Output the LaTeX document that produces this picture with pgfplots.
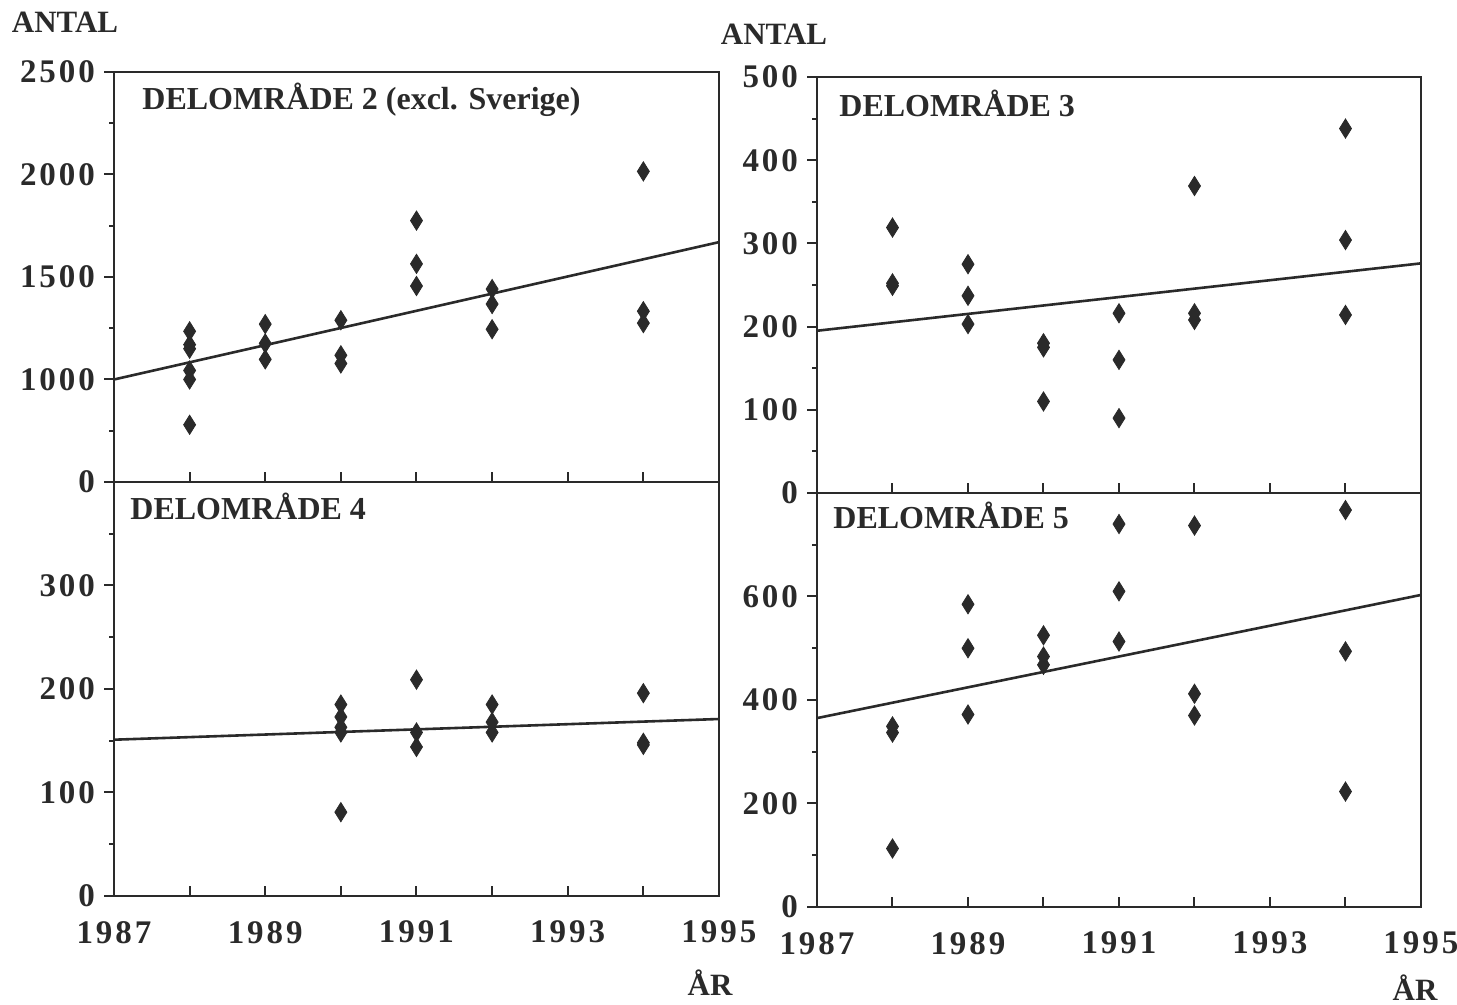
\documentclass[border=0pt]{standalone}
\usepackage{fontspec}
\setmainfont{Liberation Serif}
\newfontfamily\tfont[LetterSpace=9]{Liberation Serif}
\usepackage{pgfplots}
\pgfplotsset{compat=1.18}
\definecolor{ink}{HTML}{2A2A2A}
\pgfplotsset{
  panel/.style={
    scale only axis,
    xmin=1987, xmax=1995,
    axis line style={line width=1.3pt, draw=ink},
    xtick={1987,...,1995},
    tick pos=left,
    xtick align=inside,
    ytick align=outside,
    major tick length=5pt,
    minor tick length=2.5pt,
    minor y tick num=1,
    every tick/.style={line width=1pt, draw=ink},
    tick label style={font=\tfont\bfseries\fontsize{16.5}{18}\selectfont, text=ink},
    yticklabel style={xshift=-1pt},
    xticklabel style={yshift=-9pt},
    clip=false,
  },
  pts/.style={only marks, mark=diamond*, mark size=4pt, color=ink,
    mark options={yscale=1.2, draw=ink, fill=ink}},
  fit/.style={no marks, color=ink, line width=1.3pt},
}
\tikzset{plabel/.style={anchor=west, font=\bfseries\fontsize{16}{18}\selectfont, text=ink, inner sep=0pt},
  ttl/.style={font=\bfseries\fontsize{15.5}{17}\selectfont, text=ink}}
\begin{document}
\begin{tikzpicture}
\useasboundingbox (0,0) rectangle (728.5pt,502.5pt);
% ---------- DELOMRADE 2 (top left)
\begin{axis}[panel, at={(57pt,261.5pt)}, anchor=south west,
  width=302.5pt, height=205pt,
  ymin=500, ymax=2500, ytick={500,1000,1500,2000,2500},
  yticklabels={0,1000,1500,2000,2500}, xticklabels={}]
\addplot[pts] coordinates {
 (1988,1235) (1988,1170) (1988,1150) (1988,1044) (1988,1000) (1988,779)
 (1989,1270) (1989,1176) (1989,1098)
 (1990,1289) (1990,1118) (1990,1078)
 (1991,1775) (1991,1564) (1991,1456)
 (1992,1441) (1992,1368) (1992,1245)
 (1994,2015) (1994,1333) (1994,1275)};
\addplot[fit] coordinates {(1987,1000) (1995,1670)};
\node[plabel] at (rel axis cs:0,1) [xshift=14pt, yshift=-14pt] {DELOMRÅDE 2 (excl. Sverige)};
\end{axis}
% ---------- DELOMRADE 4 (bottom left)
\begin{axis}[panel, at={(57pt,54.5pt)}, anchor=south west,
  width=302.5pt, height=207pt,
  ymin=0, ymax=400, ytick={0,100,200,300,400},
  yticklabels={0,100,200,300,}, xticklabels={1987,,1989,,1991,,1993,,1995}]
\addplot[pts] coordinates {
 (1990,185) (1990,173) (1990,163) (1990,158) (1990,81)
 (1991,209) (1991,158) (1991,144)
 (1992,185) (1992,168) (1992,158)
 (1994,196) (1994,148) (1994,146)};
\addplot[fit] coordinates {(1987,151) (1995,171)};
\node[plabel] at (rel axis cs:0,1) [xshift=8pt, yshift=-12pt] {DELOMRÅDE 4};
\end{axis}
% ---------- DELOMRADE 3 (top right)
\begin{axis}[panel, at={(408.5pt,256pt)}, anchor=south west,
  width=302pt, height=208pt,
  ymin=0, ymax=500, ytick={0,100,200,300,400,500},
  yticklabels={0,100,200,300,400,500}, xticklabels={}]
\addplot[pts] coordinates {
 (1988,319) (1988,252) (1988,249)
 (1989,275) (1989,237) (1989,203)
 (1990,180) (1990,175) (1990,110)
 (1991,216) (1991,160) (1991,90)
 (1992,369) (1992,216) (1992,208)
 (1994,438) (1994,304) (1994,214)};
\addplot[fit] coordinates {(1987,195) (1995,276)};
\node[plabel] at (rel axis cs:0,1) [xshift=11pt, yshift=-13pt] {DELOMRÅDE 3};
\end{axis}
% ---------- DELOMRADE 5 (bottom right)
\begin{axis}[panel, at={(408.5pt,49pt)}, anchor=south west,
  width=302pt, height=207pt,
  ymin=0, ymax=800, ytick={0,200,400,600,800},
  yticklabels={0,200,400,600,}, xticklabels={1987,,1989,,1991,,1993,,1995}]
\addplot[pts] coordinates {
 (1988,349) (1988,337) (1988,113)
 (1989,585) (1989,500) (1989,372)
 (1990,525) (1990,484) (1990,468)
 (1991,740) (1991,610) (1991,513)
 (1992,737) (1992,412) (1992,370)
 (1994,767) (1994,494) (1994,223)};
\addplot[fit] coordinates {(1987,365) (1995,603)};
\node[plabel] at (rel axis cs:0,1) [xshift=8pt, yshift=-11pt] {DELOMRÅDE 5};
\end{axis}
% ---------- axis titles
\node[ttl] at (32.5pt,491.5pt) {ANTAL};
\node[ttl] at (387pt,485.5pt) {ANTAL};
\node[ttl] at (355pt,11pt) {ÅR};
\node[ttl] at (707.5pt,8.5pt) {ÅR};
\end{tikzpicture}
\end{document}
